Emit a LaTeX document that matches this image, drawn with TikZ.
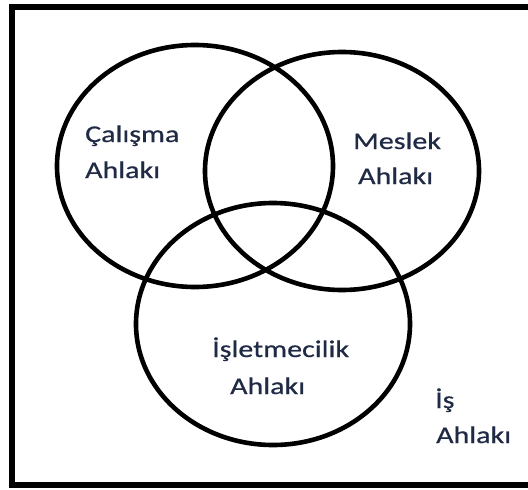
\documentclass[tikz,border=0pt]{standalone}
\usepackage{fontspec}
\setmainfont{Carlito}[FakeStretch=1.25,FakeBold=0.6]
\definecolor{txt}{HTML}{1F2A44}
\begin{document}
\begin{tikzpicture}[x=1pt,y=-1pt,
  venn/.style={line width=4.6pt,draw=black},
  lbl/.style={text=txt,font=\fontsize{24}{36}\selectfont,inner sep=0pt,anchor=base west}]
\useasboundingbox (0,0) rectangle (528,490);
\fill[white] (0,0) rectangle (528,490);
\draw[line width=5.5pt] (535,7) -- (12,7) -- (12,485) -- (535,485);
\draw[venn] (195,166) ellipse [x radius=138pt, y radius=121pt];
\draw[venn] (342,171) ellipse [x radius=137pt, y radius=119pt];
\draw[venn] (273,324) ellipse [x radius=137pt, y radius=121pt];
\node[lbl] (c1) at (85,142) {Çalışma};
\node[lbl] (c2) at (85,178) {Ahlakı};
\node[lbl] (m1) at (353,149) {Meslek};
\node[lbl] (m2) at (358,184) {Ahlakı};
\node[lbl] (i1) at (212,357) {İşletmecilik};
\node[lbl] (i2) at (230,394) {Ahlakı};
\node[lbl] (s1) at (435,408) {İş};
\node[lbl] (s2) at (436,443) {Ahlakı};
\end{tikzpicture}
\end{document}
